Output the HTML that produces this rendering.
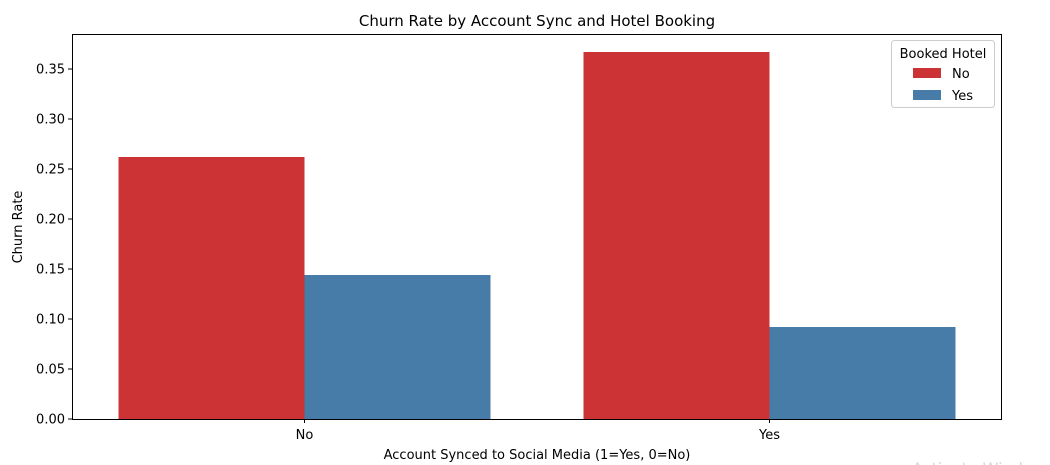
<!DOCTYPE html>
<html><head><meta charset="utf-8"><style>
html,body{margin:0;padding:0;background:#fff;}
svg{display:block;font-family:"DejaVu Sans","Liberation Sans",sans-serif;}
</style></head><body>
<svg id="chart" width="1050" height="465"></svg>
<script>
const categories = ["No", "Yes"];
const seriesNames = ["No", "Yes"];
const seriesNo = [0.262, 0.367];
const seriesYes = [0.144, 0.092];
const yTicks = [0.00, 0.05, 0.10, 0.15, 0.20, 0.25, 0.30, 0.35];
const colors = ["#cb3335", "#477ca8"];

const L = 72, R = 1002, T = 34, B = 419, yMax = 0.385;
const ns = "http://www.w3.org/2000/svg";
const svg = document.getElementById('chart');
function y(v){ return B - (v / yMax) * (B - T); }
const bandW = (R - L) / categories.length;
function xc(i){ return L + bandW * (i + 0.5); }
function mk(tag, attrs, text){
  const e = document.createElementNS(ns, tag);
  for (const k in attrs) e.setAttribute(k, attrs[k]);
  if (text !== undefined) e.textContent = text;
  svg.appendChild(e); return e;
}
let t = mk('text', {x: 537, y: 26, 'text-anchor': 'middle', 'font-size': 15, fill: '#000'}, 'Churn Rate by Account Sync and Hotel Booking');



const barW = bandW * 0.4;
[seriesNo, seriesYes].forEach((s, si) => {
  s.forEach((v, i) => {
    const x0 = xc(i) - barW + si * barW;
    const r = mk('rect', {x: x0, y: y(v), width: barW, height: B - y(v), fill: colors[si]});
    
    
  });
});

yTicks.forEach(v => {
  mk('line', {x1: L - 4, x2: L, y1: y(v), y2: y(v), stroke: '#000', 'stroke-width': 1});
  const tl = mk('text', {x: L - 7, y: y(v) + 4.5, 'text-anchor': 'end', 'font-size': 13, fill: '#000'}, v.toFixed(2));
  
  
});
categories.forEach((c, i) => {
  mk('line', {x1: xc(i), x2: xc(i), y1: B, y2: B + 4, stroke: '#000', 'stroke-width': 1});
  const tl = mk('text', {x: xc(i), y: B + 20, 'text-anchor': 'middle', 'font-size': 13, fill: '#000'}, c);
  
  
});
const frame = mk('rect', {x: L + 0.5, y: T + 0.5, width: R - L - 1, height: B - T, fill: 'none', stroke: '#000', 'stroke-width': 1});



t = mk('text', {x: 537, y: 459, 'text-anchor': 'middle', 'font-size': 13, fill: '#000'}, 'Account Synced to Social Media (1=Yes, 0=No)');


t = mk('text', {x: 22, y: 227, 'text-anchor': 'middle', 'font-size': 13, fill: '#000', transform: 'rotate(-90 22 227)'}, 'Churn Rate');



const lg = mk('rect', {x: 891.5, y: 40.5, width: 103, height: 67, rx: 3, fill: '#fff', stroke: '#ccc'});


t = mk('text', {x: 943, y: 58, 'text-anchor': 'middle', 'font-size': 13, fill: '#000'}, 'Booked Hotel');


seriesNames.forEach((n, i) => {
  const sw = mk('rect', {x: 913, y: 68 + i * 22, width: 28, height: 10, fill: colors[i]});
  
  
  const lt = mk('text', {x: 952, y: 78 + i * 22, 'font-size': 13, fill: '#000'}, n);
  
  
});
t = mk('text', {x: 912, y: 474, 'font-size': 16, fill: '#d8d8d8'}, 'Activate Windows');


</script>
</body></html>
